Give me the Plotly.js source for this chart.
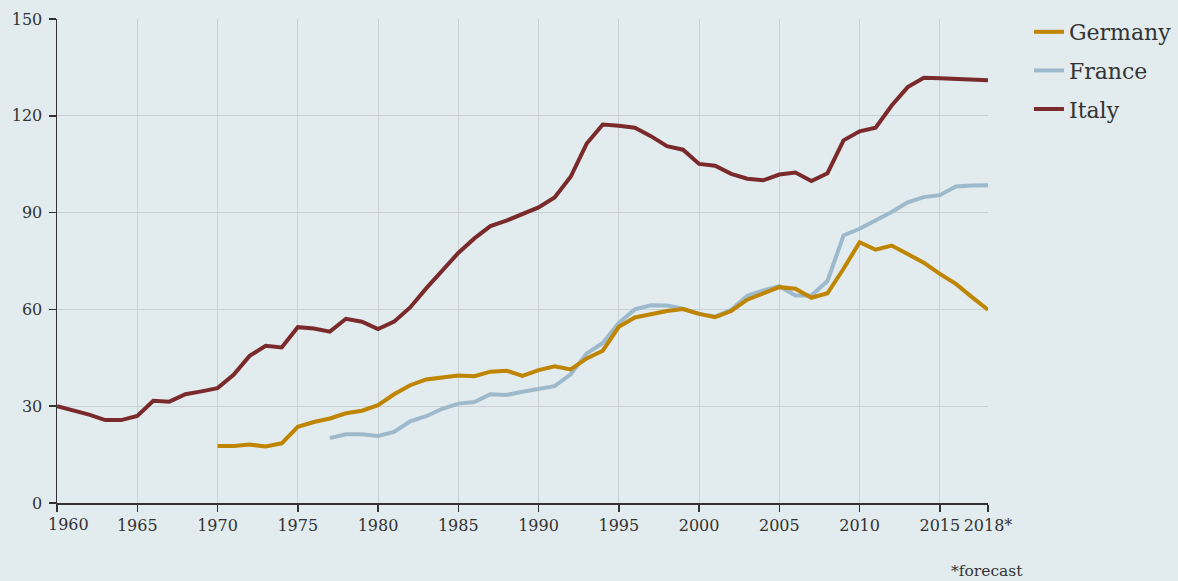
<!DOCTYPE html>
<html>
<head>
<meta charset="utf-8">
<script src="https://cdn.plot.ly/plotly-3.0.1.min.js"></script>
<style>html,body{margin:0;padding:0;background:#e2ebee;}#chart{width:1178px;height:581px;}</style>
</head>
<body>
<div id="chart"></div>
<script>
const years = [1960,1961,1962,1963,1964,1965,1966,1967,1968,1969,
  1970,1971,1972,1973,1974,1975,1976,1977,1978,1979,
  1980,1981,1982,1983,1984,1985,1986,1987,1988,1989,
  1990,1991,1992,1993,1994,1995,1996,1997,1998,1999,
  2000,2001,2002,2003,2004,2005,2006,2007,2008,2009,
  2010,2011,2012,2013,2014,2015,2016,2017,2018];

const italy = [30.0,28.7,27.4,25.7,25.7,27.0,31.7,31.4,33.7,34.6,
  35.6,39.7,45.6,48.7,48.2,54.5,54.1,53.1,57.1,56.2,
  53.9,56.2,60.6,66.5,72.0,77.5,82.0,85.8,87.5,89.7,
  91.6,94.7,101.1,111.4,117.3,116.9,116.3,113.7,110.6,109.5,
  105.1,104.5,102.0,100.5,100.0,101.8,102.4,99.8,102.2,112.4,
  115.2,116.3,123.2,128.9,131.8,131.6,131.3,131.2,131.0];

const germanyStart = 1970;
const germany = [17.7,17.7,18.1,17.5,18.5,23.6,25.1,26.2,27.8,28.6,
  30.3,33.7,36.5,38.3,38.9,39.5,39.3,40.7,41.0,39.4,
  41.2,42.4,41.4,44.8,47.2,54.6,57.5,58.5,59.5,60.1,
  58.6,57.6,59.5,63.0,64.8,66.9,66.4,63.6,65.0,72.6,
  80.8,78.5,79.8,77.2,74.5,71.0,67.9,63.8,59.9];

const franceStart = 1977;
const france = [20.1,21.3,21.3,
  20.8,22.0,25.3,26.9,29.2,30.8,31.3,33.7,33.5,34.5,
  35.5,36.2,39.9,46.3,49.6,55.8,60.0,61.3,61.2,60.2,
  58.6,57.8,59.9,64.2,65.9,67.2,64.3,64.3,68.8,82.9,
  85.0,87.6,90.2,93.2,94.8,95.4,98.1,98.4,98.5];

const xTickVals = [1960,1965,1970,1975,1980,1985,1990,1995,2000,2005,2010,2015,2018];
const xTickText = ['1960','1965','1970','1975','1980','1985','1990','1995','2000','2005','2010','2015','2018*'];
const yTickVals = [0,30,60,90,120,150];

const font = 'DejaVu Serif, Liberation Serif, serif';
const bg = '#e2ebee';
const txt = '#333';

const traces = [
  {x: years.slice(franceStart-1960), y: france, name: 'France', mode: 'lines',
   line: {color: '#9dbacd', width: 4}, legendrank: 2, legendgroup: 'f'},
  {x: years.slice(germanyStart-1960), y: germany, name: 'Germany', mode: 'lines',
   line: {color: '#bf8500', width: 4}, legendrank: 1, legendgroup: 'g'},
  {x: years, y: italy, name: 'Italy', mode: 'lines',
   line: {color: '#7b2a2c', width: 4}, legendrank: 3, legendgroup: 'i'}
];

// first x label shifted right of the y axis, as in the reference
const shownXText = xTickText.map((t, i) => i === 0 ? '' : t);

const layout = {
  width: 1178, height: 581,
  margin: {l: 57, r: 190, t: 19, b: 78, autoexpand: false},
  paper_bgcolor: bg, plot_bgcolor: bg,
  font: {family: font, size: 16, color: txt},
  showlegend: true,
  legend: {x: 1.044, xanchor: 'left', y: 1.0165, yanchor: 'top',
    font: {family: font, size: 22, color: txt},
    bgcolor: 'rgba(0,0,0,0)', traceorder: 'grouped', tracegroupgap: 7, itemwidth: 30},
  xaxis: {range: [1960, 2018], tickmode: 'array', tickvals: xTickVals, ticktext: shownXText,
    tickangle: 0, automargin: false,
    showgrid: true, gridcolor: '#c9d1d4', gridwidth: 1,
    showline: true, linecolor: txt, linewidth: 1.5,
    ticks: 'outside', ticklen: 7, tickcolor: txt, tickwidth: 1.5,
    zeroline: false, tickfont: {family: font, size: 16, color: txt}, fixedrange: true},
  yaxis: {range: [0, 150], tickmode: 'array', tickvals: yTickVals, automargin: false,
    showgrid: true, gridcolor: '#c9d1d4', gridwidth: 1,
    showline: true, linecolor: txt, linewidth: 1.5,
    ticks: 'outside', ticklen: 7, tickcolor: txt, tickwidth: 1.5, ticklabelstandoff: 3,
    zeroline: false, tickfont: {family: font, size: 16, color: txt}, fixedrange: true},
  annotations: [
    {text: xTickText[0], xref: 'x', yref: 'paper', x: xTickVals[0], y: 0, yshift: -21,
     xanchor: 'center', yanchor: 'middle', xshift: 11, showarrow: false,
     font: {family: font, size: 16, color: txt}},
    {text: '*forecast', xref: 'paper', yref: 'paper', x: 1.04, y: -0.14,
     xanchor: 'right', yanchor: 'middle', showarrow: false,
     font: {family: font, size: 15.5, color: txt}}
  ]
};

Plotly.newPlot('chart', traces, layout, {displayModeBar: false, staticPlot: true});
</script>
</body>
</html>
